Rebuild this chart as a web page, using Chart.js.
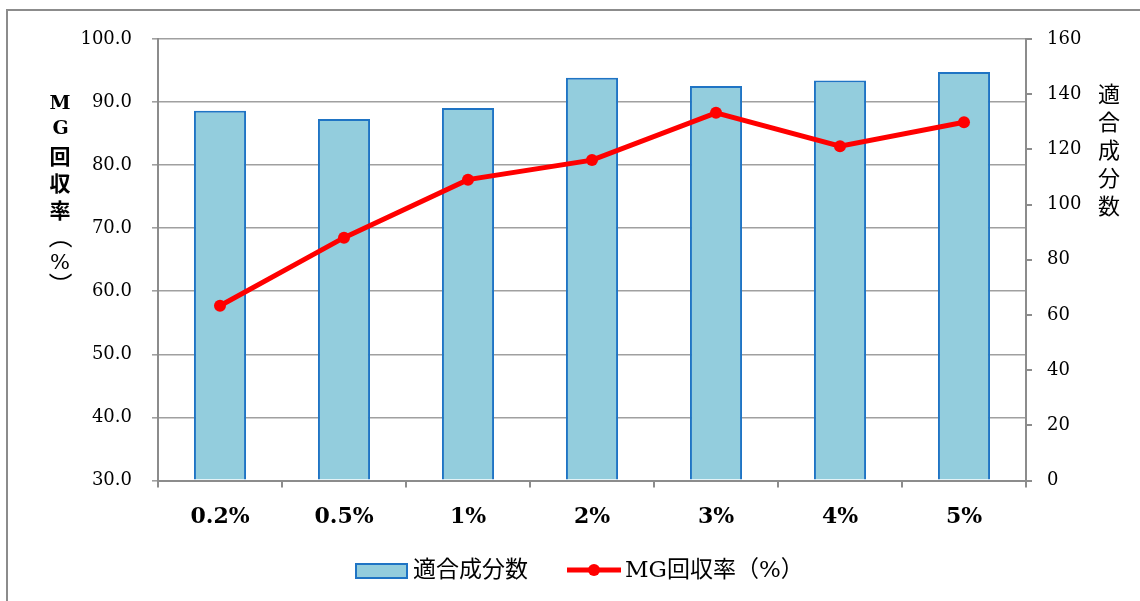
<!DOCTYPE html>
<html>
<head>
<meta charset="utf-8">
<script src="https://cdn.jsdelivr.net/npm/chart.js@4.4.1/dist/chart.umd.min.js"></script>
<style>
  html, body { margin: 0; padding: 0; background: #fff; }
  #wrap { position: relative; width: 1140px; height: 601px; overflow: hidden; }
  #frame { position: absolute; left: 6px; top: 9px; width: 1200px; height: 700px;
           border-left: 2px solid #8c8c8c; border-top: 2px solid #8c8c8c; }
  canvas { position: absolute; left: 0; top: 0; }
</style>
</head>
<body>
<div id="wrap">
  <div id="frame"></div>
  <canvas id="chart" width="1140" height="601"></canvas>
</div>
<script>
// concentrations on the x axis
const concentrations = ['0.2%', '0.5%', '1%', '2%', '3%', '4%', '5%'];
// number of matched components (right axis)
const matchedCount = [134, 131, 135, 146, 143, 145, 148];
// MG recovery rate in percent (left axis)
const mgRecovery = [57.7, 68.5, 77.7, 80.8, 88.3, 83.0, 86.8];

const barLabel = '適合成分数';
const lineLabel = 'MG回収率（%）';

const BAR_FILL = '#93cddd';
const BAR_EDGE = '#1f74c4';
const LINE_RED = '#ff0000';
const GRID = '#a0a0a0';
const SERIF = '"DejaVu Serif", "Noto Sans CJK JP", serif';
const CJK = '"Noto Sans CJK JP", sans-serif';

// draw a glyph with its ink centred on (x, y), optionally rotated
function glyph(ctx, ch, x, y, font, rot) {
  ctx.save();
  ctx.font = font;
  ctx.textAlign = 'left';
  ctx.textBaseline = 'alphabetic';
  const m = ctx.measureText(ch);
  const cx = (m.actualBoundingBoxRight - m.actualBoundingBoxLeft) / 2;
  const cy = (m.actualBoundingBoxDescent - m.actualBoundingBoxAscent) / 2;
  ctx.translate(x, y);
  ctx.rotate(rot || 0);
  ctx.fillText(ch, -cx, -cy);
  ctx.restore();
}

// vertical axis titles and the legend are painted here
const decorations = {
  id: 'decorations',
  afterDraw(chart) {
    const ctx = chart.ctx;
    ctx.save();
    ctx.fillStyle = '#000';

    // left title, one glyph per row
    const left = [
      ['M', 102, 'bold 19px ' + SERIF, 0],
      ['G', 127, 'bold 19px ' + SERIF, 0],
      ['回', 157, 'bold 21px ' + CJK, 0],
      ['収', 183, 'bold 21px ' + CJK, 0],
      ['率', 210, 'bold 21px ' + CJK, 0],
      ['（', 244, '24px ' + CJK, Math.PI / 2],
      ['%', 261, '21px ' + SERIF, 0],
      ['）', 277, '24px ' + CJK, Math.PI / 2]
    ];
    left.forEach(([ch, y, font, rot]) => glyph(ctx, ch, 60, y, font, rot));

    // right title
    Array.from(barLabel).forEach((ch, i) => {
      glyph(ctx, ch, 1109, 94 + i * 28, '22px ' + CJK, 0);
    });

    // legend
    const bar = chart.data.datasets[1];
    const line = chart.data.datasets[0];
    ctx.fillStyle = bar.backgroundColor;
    ctx.fillRect(356, 564, 51, 14);
    ctx.strokeStyle = bar.borderColor;
    ctx.lineWidth = 2;
    ctx.strokeRect(356, 564, 51, 14);

    ctx.textAlign = 'left';
    ctx.textBaseline = 'middle';
    ctx.fillStyle = '#000';
    ctx.font = '23px ' + SERIF;
    ctx.fillText(bar.label, 413, 571);

    ctx.strokeStyle = line.borderColor;
    ctx.lineWidth = line.borderWidth;
    ctx.beginPath();
    ctx.moveTo(567, 570);
    ctx.lineTo(621, 570);
    ctx.stroke();
    ctx.fillStyle = line.pointBackgroundColor;
    ctx.beginPath();
    ctx.arc(594, 570, line.pointRadius, 0, Math.PI * 2);
    ctx.fill();

    ctx.fillStyle = '#000';
    ctx.fillText(line.label, 625, 571);
    ctx.restore();
  }
};

new Chart(document.getElementById('chart'), {
  type: 'bar',
  data: {
    labels: concentrations,
    datasets: [
      {
        type: 'line',
        label: lineLabel,
        data: mgRecovery,
        yAxisID: 'yRate',
        borderColor: LINE_RED,
        borderWidth: 5,
        pointRadius: 6,
        pointBackgroundColor: LINE_RED,
        pointBorderColor: LINE_RED,
        pointBorderWidth: 0,
        tension: 0,
        order: 0
      },
      {
        type: 'bar',
        label: barLabel,
        data: matchedCount,
        yAxisID: 'yCount',
        backgroundColor: BAR_FILL,
        borderColor: BAR_EDGE,
        borderWidth: 2,
        categoryPercentage: 1,
        barPercentage: 0.42,
        order: 1
      }
    ]
  },
  options: {
    responsive: false,
    animation: false,
    layout: { padding: { top: 39, left: 0, right: 0, bottom: 0 } },
    plugins: {
      legend: { display: false },
      tooltip: { enabled: false }
    },
    scales: {
      x: {
        offset: true,
        grid: { offset: true, drawOnChartArea: false, tickLength: 7, color: '#8c8c8c', lineWidth: 2 },
        border: { color: '#8c8c8c', width: 2 },
        ticks: { color: '#000', padding: 17, font: { family: SERIF, size: 22, weight: 'bold' } },
        afterFit(s) { s.height = 120.5; }
      },
      yRate: {
        position: 'left',
        min: 30,
        max: 100,
        grid: { color: GRID, lineWidth: 1.6, tickLength: 6 },
        border: { color: '#8c8c8c', width: 2 },
        ticks: {
          stepSize: 10,
          color: '#000',
          padding: 20,
          font: { family: SERIF, size: 18 },
          callback: v => v.toFixed(1)
        },
        afterFit(s) { s.width = 158; }
      },
      yCount: {
        position: 'right',
        min: 0,
        max: 160,
        grid: { drawOnChartArea: false, tickLength: 6, color: '#8c8c8c', lineWidth: 2 },
        border: { color: '#8c8c8c', width: 2 },
        ticks: { stepSize: 20, color: '#000', padding: 15, font: { family: SERIF, size: 18 } },
        afterFit(s) { s.width = 114; }
      }
    }
  },
  plugins: [decorations]
});
</script>
</body>
</html>
